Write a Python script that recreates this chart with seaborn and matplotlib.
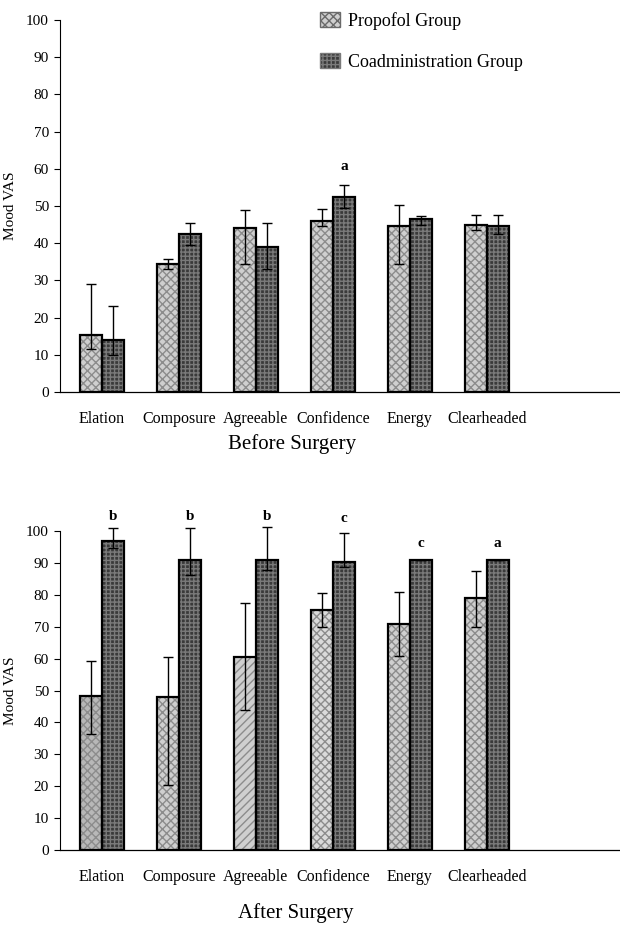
import numpy as np
import pandas as pd
import matplotlib
matplotlib.use("Agg")
import matplotlib.pyplot as plt
from matplotlib.patches import Patch, Rectangle
import seaborn as sns

# Daten
categories = ["Elation", "Composure", "Agreeable", "Confidence", "Energy", "Clearheaded"]
groups = ["Propofol Group", "Coadministration Group"]

before_prop = [15.2, 34.5, 44.0, 46.0, 44.5, 45.0]
before_prop_lo = [11.5, 33.0, 34.5, 44.5, 34.5, 43.5]
before_prop_hi = [29.0, 35.8, 49.0, 49.2, 50.2, 47.5]
before_coad = [14.0, 42.5, 39.0, 52.5, 46.5, 44.6]
before_coad_lo = [10.0, 39.5, 33.0, 49.5, 45.0, 42.5]
before_coad_hi = [23.0, 45.4, 45.5, 55.7, 47.4, 47.5]
before_marks = ["", "", "", "a", "", ""]

after_prop = [48.2, 47.9, 60.6, 75.2, 70.8, 78.9]
after_prop_lo = [36.3, 20.4, 44.0, 70.0, 60.8, 70.0]
after_prop_hi = [59.1, 60.4, 77.5, 80.7, 80.8, 87.6]
after_coad = [97.0, 90.9, 90.9, 90.4, 91.0, 91.0]
after_coad_lo = [94.6, 86.2, 87.8, 88.8, 91.0, 91.0]
after_coad_hi = [100.8, 100.8, 101.1, 99.3, 91.0, 91.0]
after_marks = ["b", "b", "b", "c", "c", "a"]
after_mark_y = [104.5, 104.5, 104.5, 104.0, 96.0, 96.0]

plt.rcParams['font.family'] = ['Liberation Serif', 'DejaVu Serif']

fig = plt.figure(figsize=(6.2, 9.31), dpi=100)
ax1 = fig.add_axes([60/620, 1-392/931, 560/620, 372/931])
ax2 = fig.add_axes([60/620, 1-850/931, 560/620, 319/931])

prop_face = "#cfcfcf"
coad_face = "#3a3a3a"
coad_hatch = "#7a7a7a"


def panel(ax, prop, prop_lo, prop_hi, coad, coad_lo, coad_hi, marks, mark_y, prop_hatches, prop_faces):
    df = pd.DataFrame({
        "cat": categories * 2,
        "group": [groups[0]] * 6 + [groups[1]] * 6,
        "val": prop + coad,
    })
    sns.barplot(data=df, x="cat", y="val", hue="group", order=categories,
                hue_order=groups, width=0.57, errorbar=None, legend=False,
                palette=[prop_face, coad_face], saturation=1, ax=ax)
    # Schraffur + schwarze Umrandung
    for k, bar in enumerate(ax.containers[0]):
        bar.set_facecolor(prop_faces[k])
        bar.set_hatch(prop_hatches[k])
        bar.set_edgecolor("#8c8c8c")
        bar.set_linewidth(0)
    for bar in ax.containers[1]:
        bar.set_hatch("++++")
        bar.set_edgecolor(coad_hatch)
        bar.set_linewidth(0)
    for cont in ax.containers[:2]:
        for bar in cont:
            ax.add_patch(Rectangle(bar.get_xy(), bar.get_width(), bar.get_height(),
                                   fill=False, edgecolor="black", lw=1.6, zorder=3))
    # Fehlerbalken
    for cont, v, lo, hi in [(ax.containers[0], prop, prop_lo, prop_hi),
                            (ax.containers[1], coad, coad_lo, coad_hi)]:
        xs = [b.get_x() + b.get_width()/2 for b in cont]
        v = np.array(v)
        yerr = [v - np.array(lo), np.array(hi) - v]
        ax.errorbar(xs, v, yerr=yerr, fmt="none", ecolor="black", elinewidth=1.0,
                    capsize=3.5, capthick=1.0, zorder=4, clip_on=False)
        if cont is ax.containers[1]:
            for x, m, my in zip(xs, marks, mark_y):
                if m:
                    ax.text(x, my, m, ha="center", va="center", fontsize=11,
                            fontweight="bold", clip_on=False)
    ax.set_xlim(-0.545, 6.73)
    ax.set_ylim(0, 100)
    ax.set_yticks(range(0, 101, 10))
    ax.tick_params(axis="y", labelsize=11, length=4, width=0.8, direction="out", pad=4)
    ax.tick_params(axis="x", labelsize=11.5, length=0, pad=14)
    ax.set_xlabel("")
    ax.set_ylabel("Mood VAS", fontsize=11)
    ax.yaxis.set_label_coords(-0.077, 0.5)
    for s in ["top", "right"]:
        ax.spines[s].set_visible(False)
    ax.spines["left"].set_linewidth(0.8)
    ax.spines["bottom"].set_linewidth(0.9)
    ax.set_facecolor("white")


panel(ax1, before_prop, before_prop_lo, before_prop_hi, before_coad, before_coad_lo,
      before_coad_hi, before_marks, [60.5] * 6, ["xxxx"] * 6, [prop_face] * 6)
panel(ax2, after_prop, after_prop_lo, after_prop_hi, after_coad, after_coad_lo,
      after_coad_hi, after_marks, after_mark_y,
      ["xxxx", "xxxx", "////", "xxxx", "xxxx", "xxxx"],
      ["#b8b8b8", prop_face, prop_face, "#dadada", prop_face, prop_face])

fig.text(292/620, 1-444/931, "Before Surgery", ha="center", va="center", fontsize=15)
fig.text(296/620, 1-913/931, "After Surgery", ha="center", va="center", fontsize=15)

handles = [Patch(facecolor=prop_face, edgecolor="#6a6a6a", hatch="xxxx", lw=1),
           Patch(facecolor=coad_face, edgecolor=coad_hatch, hatch="++++", lw=1)]
fig.legend(handles, groups, loc="upper left", bbox_to_anchor=(320/620, 1-12/931),
           frameon=False, fontsize=13, handlelength=1.1, handleheight=0.9,
           handletextpad=0.45, labelspacing=1.3, borderpad=0, borderaxespad=0)

fig.savefig("out.png", dpi=100, facecolor="white")
